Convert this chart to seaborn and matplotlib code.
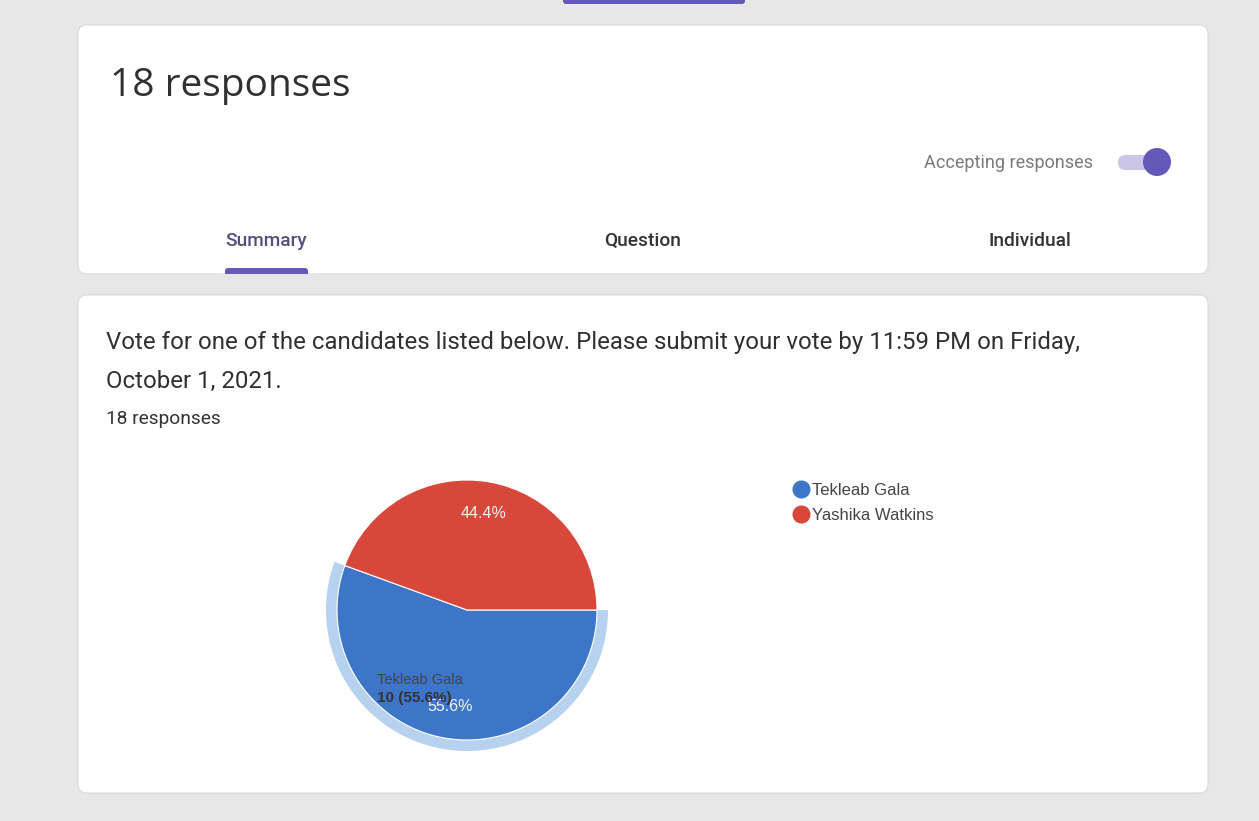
import matplotlib
matplotlib.use("Agg")
import matplotlib.pyplot as plt
import seaborn as sns
from matplotlib.patches import FancyBboxPatch, Wedge, Circle
from matplotlib.lines import Line2D

# ---- data ----
candidates = ["Tekleab Gala", "Yashika Watkins"]
votes = [10, 8]
total_responses = 18
question_lines = ["Vote for one of the candidates listed below. Please submit your vote by 11:59 PM on Friday,",
                  "October 1, 2021."]
tabs = ["Summary", "Question", "Individual"]

sns.set_theme(style="white")
plt.rcParams['font.family'] = ['Roboto', 'DejaVu Sans']

colors = ["#3d76c9", "#d8483a"]
ring_color = "#b6d2ef"
purple = "#6458b8"

W, H = 1259, 821
fig = plt.figure(figsize=(W / 100, H / 100), dpi=100, facecolor="#e7e7e7")
ax = fig.add_axes([0, 0, 1, 1])
ax.set_xlim(0, W)
ax.set_ylim(H, 0)
ax.axis("off")

# top indicator bar
ax.add_patch(FancyBboxPatch((563, -4), 182, 8, boxstyle="round,pad=0,rounding_size=3",
                            fc=purple, ec="none"))

# cards
for (y0, y1) in [(25, 274), (295, 793)]:
    ax.add_patch(FancyBboxPatch((78, y0), 1130, y1 - y0, boxstyle="round,pad=0,rounding_size=9",
                                fc="white", ec="#dadada", lw=0.8))

ax.text(110, 86, f"{total_responses} responses", fontsize=28, color="#303030",
        va="center", ha="left", family=["Open Sans", "DejaVu Sans"])
ax.text(1093, 163, "Accepting responses", fontsize=13, color="#7a7a7a", va="center", ha="right")
# toggle
ax.add_patch(FancyBboxPatch((1118, 155), 42, 15, boxstyle="round,pad=0,rounding_size=7.5",
                            fc="#cbc6e8", ec="none"))
ax.add_patch(Circle((1157, 162), 14, fc=purple, ec="none"))

tab_x = [266, 643, 1030]
tab_colors = ["#55507a", "#333333", "#333333"]
for t, x, c in zip(tabs, tab_x, tab_colors):
    ax.text(x, 241, t, fontsize=13.8, color=c, va="center", ha="center", fontweight="medium")
ax.add_patch(FancyBboxPatch((225, 268), 83, 8, boxstyle="round,pad=0,rounding_size=3",
                            fc=purple, ec="none"))
ax.add_patch(plt.Rectangle((220, 274), 95, 6, fc="#e7e7e7", ec="none"))

for i, line in enumerate(question_lines):
    ax.text(106, 343 + 38 * i, line, fontsize=17.3, color="#303030", va="center", ha="left")
ax.text(106, 419, f"{total_responses} responses", fontsize=13.8, color="#333333",
        va="center", ha="left")

# ---- pie ----
cx, cy, half = 467, 610, 200
pax = fig.add_axes([(cx - half) / W, (H - cy - half) / H, 2 * half / W, 2 * half / H])
R = 130
wedges, _, autotexts = pax.pie(
    votes, colors=colors, startangle=0, counterclock=False, radius=R,
    autopct="%1.1f%%", pctdistance=0.75,
    wedgeprops=dict(edgecolor="white", linewidth=0.8),
    textprops=dict(color="#f2f2f2", fontsize=11.5, family=["Liberation Sans", "DejaVu Sans"]))
share0 = votes[0] / sum(votes) * 360
pax.add_patch(Wedge((0, 0), R + 11, 360 - share0, 360, width=11, fc=ring_color, ec="none", zorder=0))
pax.set_xlim(-half, half)
pax.set_ylim(-half, half)
pax.set_aspect("equal")
pax.axis("off")

pct0 = votes[0] / sum(votes) * 100
pax.text(-90, -70, candidates[0], fontsize=10.5, color="#444444", ha="left", va="center",
         family=["Liberation Sans", "DejaVu Sans"], zorder=5)
pax.text(-90, -88, f"{votes[0]} ({pct0:.1f}%)", fontsize=11, color="#333333", ha="left",
         va="center", fontweight="bold", family=["Liberation Sans", "DejaVu Sans"], zorder=5)

handles = [Line2D([], [], marker="o", ls="none", markersize=13, markerfacecolor=c,
                  markeredgecolor="none") for c in colors]
fig.legend(handles, candidates, loc="upper left", bbox_to_anchor=(785 / W, 1 - 476 / H),
           frameon=False, handletextpad=0.15, labelspacing=0.6, borderaxespad=0,
           prop=dict(family=["Liberation Sans", "DejaVu Sans"], size=12),
           labelcolor="#444444", handlelength=1.1)

fig.savefig("out.png", dpi=100, facecolor=fig.get_facecolor())
